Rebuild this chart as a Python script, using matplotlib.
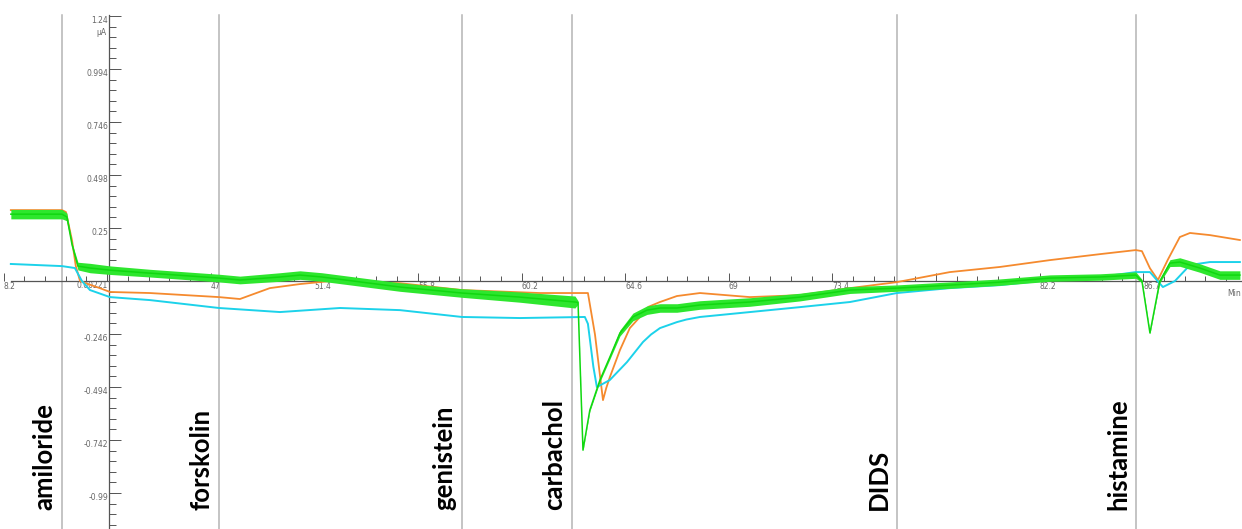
import matplotlib
matplotlib.use("Agg")
import matplotlib.pyplot as plt
import numpy as np
from matplotlib.ticker import FixedLocator


#====================DATA====================

# orange trace (min, uA)
orange_t = [38.51, 40.68, 40.85, 41.11, 41.27, 41.45, 41.66, 42.29, 42.72, 44.42, 47.35, 48.24,
            49.51, 50.79, 52.06, 55.04, 57.67, 60.98, 63.02, 63.32, 63.66, 63.80, 63.95, 64.38,
            64.80, 65.23, 65.60, 66.08, 66.80, 67.78, 69.90, 72.02, 74.15, 76.14, 78.39, 80.52,
            82.64, 84.77, 86.29, 86.55, 86.89, 87.23, 87.65, 88.16, 88.59, 89.44, 90.71]
orange_v = [0.332, 0.332, 0.323, 0.19, 0.07, 0.0, -0.009, -0.033, -0.051, -0.056, -0.075, -0.084,
            -0.033, -0.014, 0.0, -0.010, -0.042, -0.056, -0.056, -0.25, -0.557, -0.50, -0.45, -0.323,
            -0.22, -0.168, -0.12, -0.098, -0.070, -0.056, -0.075, -0.066, -0.033, -0.005, 0.042, 0.066,
            0.098, 0.126, 0.145, 0.140, 0.060, 0.005, 0.100, 0.206, 0.225, 0.215, 0.192]

# cyan trace
cyan_t = [38.51, 40.68, 41.23, 41.53, 41.87, 42.72, 44.42, 47.35, 49.94, 52.49, 55.04, 57.67,
          60.13, 62.89, 63.02, 63.25, 63.40, 63.95, 64.68, 65.36, 65.70, 66.08, 66.80, 67.20,
          67.78, 69.90, 72.02, 74.15, 76.14, 78.39, 80.52, 82.64, 84.77, 86.29, 86.89, 87.44,
          87.95, 88.59, 89.44, 90.71]
cyan_v = [0.080, 0.070, 0.061, 0.0, -0.042, -0.075, -0.089, -0.126, -0.145, -0.126, -0.136, -0.168,
          -0.173, -0.168, -0.20, -0.40, -0.496, -0.463, -0.379, -0.285, -0.250, -0.220, -0.192, -0.180,
          -0.168, -0.145, -0.122, -0.098, -0.056, -0.033, -0.019, 0.005, 0.019, 0.042, 0.042, -0.028,
          0.0, 0.075, 0.089, 0.089]

# green trace: centre and half width of the noise band
green_t = [38.51, 40.68, 40.89, 41.11, 41.36, 41.87, 42.72, 44.42, 47.35, 48.24, 49.94, 50.79,
           51.72, 55.04, 57.67, 60.13, 62.47, 62.60, 62.81, 63.10, 63.53, 63.95, 64.38, 64.93,
           65.53, 66.08, 66.80, 67.78, 69.90, 72.02, 74.15, 76.14, 78.39, 80.52, 82.64, 84.77,
           86.29, 86.55, 86.89, 87.31, 87.74, 88.16, 89.01, 89.86, 90.71]
green_v = [0.313, 0.313, 0.300, 0.170, 0.070, 0.061, 0.051, 0.037, 0.014, 0.005, 0.019, 0.028,
           0.019, -0.028, -0.056, -0.075, -0.098, -0.100, -0.791, -0.604, -0.463, -0.356, -0.243, -0.168,
           -0.136, -0.126, -0.126, -0.112, -0.098, -0.075, -0.042, -0.033, -0.019, -0.005, 0.014, 0.019,
           0.028, 0.0, -0.243, 0.0, 0.084, 0.089, 0.061, 0.028, 0.028]
green_hw = [0.022, 0.022, 0.018, 0.008, 0.018, 0.022, 0.02, 0.018, 0.018, 0.018, 0.02, 0.02,
            0.02, 0.02, 0.02, 0.024, 0.028, 0.008, 0.003, 0.006, 0.008, 0.01, 0.014, 0.018,
            0.02, 0.02, 0.02, 0.02, 0.02, 0.018, 0.016, 0.015, 0.015, 0.015, 0.015, 0.015,
            0.015, 0.008, 0.004, 0.008, 0.016, 0.02, 0.02, 0.02, 0.02]

events = ["amiloride", "forskolin", "genistein", "carbachol", "DIDS", "histamine"]
event_t = [40.68, 47.35, 57.67, 62.34, 76.14, 86.29]

x_ticks = [38.2, 42.6, 47.0, 51.4, 55.8, 60.2, 64.6, 69.0, 73.4, 77.8, 82.2, 86.6]
x_labels = ["8.2", "", "47", "51.4", "55.8", "60.2", "64.6", "69", "73.4", "", "82.2", "86.7"]
y_ticks = [1.24, 0.994, 0.746, 0.498, 0.25, 0.00221, -0.246, -0.494, -0.742, -0.99]
y_labels = ["1.24", "0.994", "0.746", "0.498", "0.25", "0.00221", "-0.246", "-0.494", "-0.742", "-0.99"]

#====================PLOT====================

fig = plt.figure(figsize=(12.42, 5.29), dpi=100)
ax = fig.add_axes([0, 0, 1, 1])
ax.set_xlim(38.05, 90.8)
ax.set_ylim(-1.16, 1.315)

y_axis_x = 42.7
top = 1.245

for t in event_t:
    ax.plot([t, t], [-1.2, top], color="#b4b4b4", lw=1.1, zorder=1)

ax.plot(orange_t, orange_v, color="#f58a2e", lw=1.3, zorder=3)
ax.plot(cyan_t, cyan_v, color="#1cd2ea", lw=1.4, zorder=4)
gt = np.array(green_t)
gv = np.array(green_v)
gh = np.array(green_hw)
ax.fill_between(gt, gv - gh, gv + gh, color="#2ee62e", lw=0, zorder=5)
ax.plot(gt, gv, color="#10d810", lw=1.1, zorder=5)

# axes through the origin
for s in ["top", "right"]:
    ax.spines[s].set_visible(False)
ax.spines["left"].set_position(("data", y_axis_x))
ax.spines["bottom"].set_position(("data", 0))
ax.spines["left"].set_bounds(-1.2, top)
ax.spines["bottom"].set_bounds(38.5, 90.8)
for s in ["left", "bottom"]:
    ax.spines[s].set_color("#555555")
    ax.spines[s].set_linewidth(0.9)
    ax.spines[s].set_zorder(2)

ax.xaxis.set_major_locator(FixedLocator(x_ticks))
ax.xaxis.set_minor_locator(FixedLocator(np.arange(38.2, 91, 0.88)))
ax.yaxis.set_major_locator(FixedLocator(y_ticks))
ax.yaxis.set_minor_locator(FixedLocator(1.24 - 0.0496 * np.arange(0, 49)))
ax.set_xticklabels(x_labels)
ax.set_yticklabels(y_labels)

ax.tick_params(axis="x", which="major", direction="in", length=5.8, width=0.7, color="#555555",
               labelsize=5.5, labelcolor="#666666", pad=1)
ax.tick_params(axis="x", which="minor", direction="in", length=3.6, width=0.7, color="#555555")
ax.tick_params(axis="y", which="major", direction="in", length=8.6, width=0.7, color="#555555",
               labelsize=5.5, labelcolor="#666666", pad=1)
ax.tick_params(axis="y", which="minor", direction="in", length=4.8, width=0.7, color="#555555")
for lab in ax.get_xticklabels():
    lab.set_horizontalalignment("left")
for lab in ax.get_yticklabels():
    lab.set_verticalalignment("top")

ax.text(y_axis_x - 0.12, 1.185, "µA", ha="right", va="top", fontsize=5.5, color="#666666")
ax.text(90.75, -0.035, "Min", ha="right", va="top", fontsize=5.5, color="#666666")

for name, t in zip(events, event_t):
    ax.annotate(name, xy=(t, -1.071), xytext=(-4, 0), textcoords="offset points",
                rotation=90, ha="right", va="bottom", fontsize=18.5,
                fontfamily="Lato", fontweight="bold", color="black")

fig.savefig("out.png", dpi=100)
